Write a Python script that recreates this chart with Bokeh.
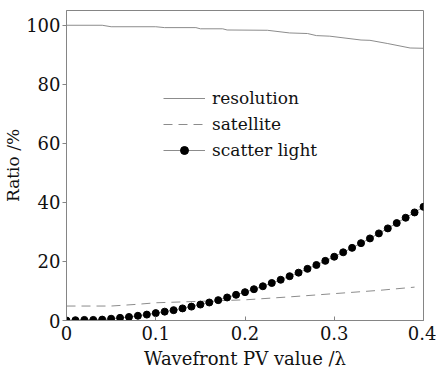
from bokeh.plotting import figure
from bokeh.models import Legend, LegendItem, FixedTicker, NumeralTickFormatter, Range1d
from bokeh.embed import file_html
from bokeh.resources import INLINE

# ---- data ----
res_x = [0.0, 0.04, 0.05, 0.10, 0.11, 0.145, 0.15, 0.175, 0.18, 0.225, 0.25, 0.27, 0.28, 0.295, 0.33, 0.34, 0.36, 0.385, 0.40]
res_y = [100.0, 100.0, 99.5, 99.5, 99.2, 99.2, 98.8, 98.8, 98.4, 98.3, 97.4, 97.2, 96.5, 96.3, 95.0, 94.9, 93.8, 92.3, 92.2]

sat_x = [0.0, 0.05, 0.08, 0.10, 0.15, 0.20, 0.25, 0.30, 0.35, 0.39]
sat_y = [4.9, 4.9, 5.5, 6.0, 6.5, 7.0, 8.0, 9.1, 10.2, 11.3]

sc_x = [0.00, 0.01, 0.02, 0.03, 0.04, 0.05, 0.06, 0.07, 0.08, 0.09,
        0.10, 0.11, 0.12, 0.13, 0.14, 0.15, 0.16, 0.17, 0.18, 0.19,
        0.20, 0.21, 0.22, 0.23, 0.24, 0.25, 0.26, 0.27, 0.28, 0.29,
        0.30, 0.31, 0.32, 0.33, 0.34, 0.35, 0.36, 0.37, 0.38, 0.39, 0.40]
sc_y = [0.0, 0.1, 0.2, 0.2, 0.3, 0.6, 0.9, 1.2, 1.6, 2.0,
        2.5, 3.0, 3.5, 4.1, 4.7, 5.4, 6.1, 6.9, 7.8, 8.7,
        9.6, 10.6, 11.6, 12.7, 13.8, 15.0, 16.2, 17.5, 18.8, 20.2,
        21.6, 23.1, 24.6, 26.2, 27.8, 29.5, 31.2, 33.0, 34.8, 36.6, 38.5]

x_ticks = [0, 0.1, 0.2, 0.3, 0.4]
y_ticks = [0, 20, 40, 60, 80, 100]
labels = ["resolution", "satellite", "scatter light"]

FONT = "DejaVu Serif"
AX = "#858585"
LINE = "#8c8c8c"

p = figure(width=436, height=379, output_backend="svg", toolbar_location=None,
           x_range=Range1d(0, 0.4), y_range=Range1d(0, 105),
           min_border_left=64, min_border_right=13, min_border_top=10, min_border_bottom=59)
p.background_fill_color = "white"
p.border_fill_color = "white"
p.grid.visible = False
p.outline_line_color = AX
p.outline_line_width = 1

xa = p.xaxis[0]
xa.ticker = FixedTicker(ticks=x_ticks)
xa.formatter = NumeralTickFormatter(format="0.[0]")
xa.axis_label = "Wavefront PV value /λ"
ya = p.yaxis[0]
ya.ticker = FixedTicker(ticks=y_ticks)
ya.axis_label = "Ratio /%"

for ax in (xa, ya):
    ax.axis_line_color = AX
    ax.major_tick_line_color = AX
    ax.minor_tick_line_color = None
    ax.major_label_text_font = FONT
    ax.major_label_text_font_size = "18px"
    ax.major_label_text_color = "#111111"
    ax.axis_label_text_font = FONT
    ax.axis_label_text_font_size = "18px"
    ax.axis_label_text_font_style = "normal"
    ax.axis_label_text_color = "#111111"

ya.axis_label_text_font_size = "17px"
xa.major_tick_in = 4
xa.major_tick_out = 0
xa.major_label_standoff = 5
xa.axis_label_standoff = 5
ya.major_tick_in = 0
ya.major_tick_out = 4
ya.major_label_standoff = 2
ya.axis_label_standoff = 0

r_res = p.line(res_x, res_y, line_color=LINE, line_width=1)
r_sat = p.line(sat_x, sat_y, line_color=LINE, line_width=1, line_dash="9 6")
r_scl = p.line(sc_x, sc_y, line_color=LINE, line_width=1)
r_scp = p.scatter(sc_x, sc_y, size=7, fill_color="black", line_color="black")

legend = Legend(items=[
    LegendItem(label=labels[0], renderers=[r_res]),
    LegendItem(label=labels[1], renderers=[r_sat]),
    LegendItem(label=labels[2], renderers=[r_scl, r_scp]),
], location=(97, 160))
legend.border_line_color = None
legend.background_fill_alpha = 0
legend.padding = 0
legend.margin = 0
legend.spacing = 6
legend.glyph_width = 42
legend.glyph_height = 20
legend.label_height = 20
legend.label_standoff = 7
legend.label_text_font = FONT
legend.label_text_font_size = "17px"
legend.label_text_color = "#111111"
p.add_layout(legend)

open("out.html", "w").write(file_html(p, INLINE))
